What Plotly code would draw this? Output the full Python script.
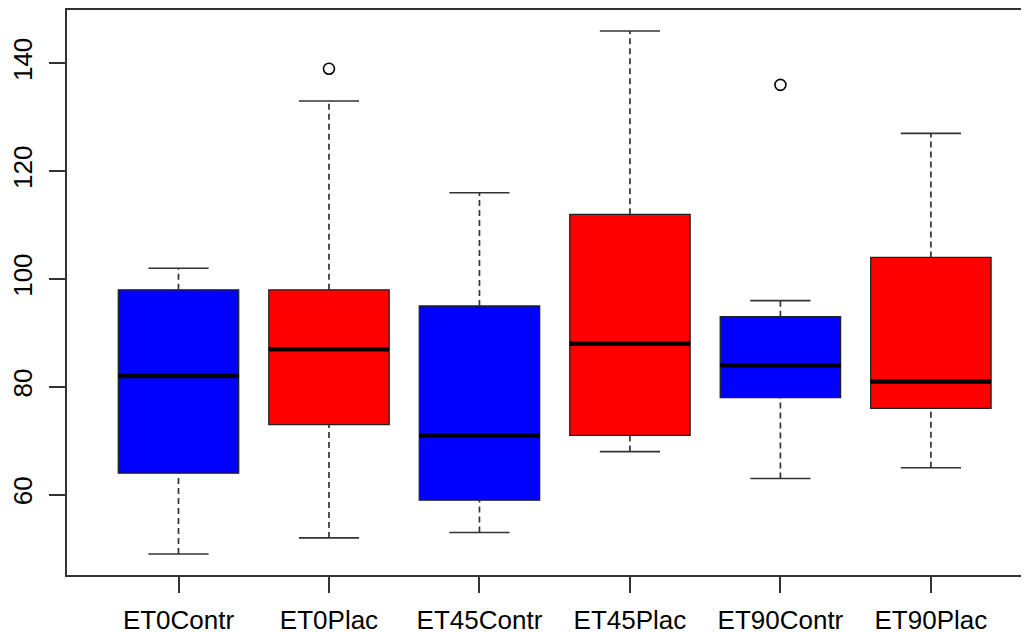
import plotly.graph_objects as go

# ---- data ----
groups = ["ET0Contr", "ET0Plac", "ET45Contr", "ET45Plac", "ET90Contr", "ET90Plac"]
lower_whisker = [49, 52, 53, 68, 63, 65]
q1 = [64, 73, 59, 71, 78, 76]
median = [82, 87, 71, 88, 84, 81]
q3 = [98, 98, 95, 112, 93, 104]
upper_whisker = [102, 133, 116, 146, 96, 127]
outlier_groups = ["ET0Plac", "ET90Contr"]
outlier_values = [139, 136]
box_colors = ["#0000FF", "#FF0000", "#0000FF", "#FF0000", "#0000FF", "#FF0000"]
y_ticks = [60, 80, 100, 120, 140]

BOX_W = 0.8
STAPLE_W = 0.4
LINE_COL = "#333333"
FONT = "Liberation Sans, Arial, sans-serif"

pos = list(range(len(groups)))
fig = go.Figure()

# boxes
for i, g in enumerate(groups):
    fig.add_trace(go.Box(
        x=[pos[i]], q1=[q1[i]], median=[median[i]], q3=[q3[i]],
        lowerfence=[q1[i]], upperfence=[q3[i]],
        width=BOX_W, fillcolor=box_colors[i],
        line=dict(color="#222222", width=1.3),
        whiskerwidth=0, boxpoints=False, showlegend=False, hoverinfo="skip",
    ))

# dashed whiskers
wx, wy = [], []
for i in pos:
    wx += [i, i, None, i, i, None]
    wy += [q3[i], upper_whisker[i], None, lower_whisker[i], q1[i], None]
fig.add_trace(go.Scatter(x=wx, y=wy, mode="lines",
                         line=dict(color=LINE_COL, width=1.7, dash="6px,4px"),
                         showlegend=False, hoverinfo="skip"))

# staples
sx, sy = [], []
for i in pos:
    sx += [i - STAPLE_W / 2, i + STAPLE_W / 2, None, i - STAPLE_W / 2, i + STAPLE_W / 2, None]
    sy += [upper_whisker[i], upper_whisker[i], None, lower_whisker[i], lower_whisker[i], None]
fig.add_trace(go.Scatter(x=sx, y=sy, mode="lines",
                         line=dict(color=LINE_COL, width=1.6),
                         showlegend=False, hoverinfo="skip"))

# thick medians
mx, my = [], []
for i in pos:
    mx += [i - BOX_W / 2, i + BOX_W / 2, None]
    my += [median[i], median[i], None]
fig.add_trace(go.Scatter(x=mx, y=my, mode="lines",
                         line=dict(color="black", width=4.5),
                         showlegend=False, hoverinfo="skip"))

# outliers
fig.add_trace(go.Scatter(
    x=[groups.index(g) for g in outlier_groups], y=outlier_values, mode="markers",
    marker=dict(symbol="circle-open", size=11, color="black", line=dict(width=1.6)),
    showlegend=False, hoverinfo="skip"))

# page body has an 8px margin, so the figure is sized/offset to compensate
fig.update_layout(
    width=1021, height=624,
    margin=dict(l=59, r=0, t=2, b=57),
    paper_bgcolor="white", plot_bgcolor="white",
    font=dict(family=FONT, color="black"),
    xaxis=dict(
        range=[-0.741, 5.652], tickmode="array", tickvals=pos, ticktext=groups,
        showline=True, linecolor=LINE_COL, linewidth=1.6, mirror=True,
        ticks="outside", ticklen=16, tickwidth=1.6, tickcolor=LINE_COL,
        showgrid=False, zeroline=False, tickfont=dict(size=26, family=FONT),
        ticklabelstandoff=5, automargin=False,
    ),
    yaxis=dict(
        range=[45.12, 149.88], tickmode="array", tickvals=y_ticks,
        showline=True, linecolor=LINE_COL, linewidth=1.6, mirror=False,
        ticks="outside", ticklen=16, tickwidth=1.6, tickcolor=LINE_COL,
        showgrid=False, zeroline=False, tickangle=-90,
        tickfont=dict(size=26, family=FONT), ticklabelstandoff=7,
        automargin=False,
    ),
)

fig.write_html("out.html")
